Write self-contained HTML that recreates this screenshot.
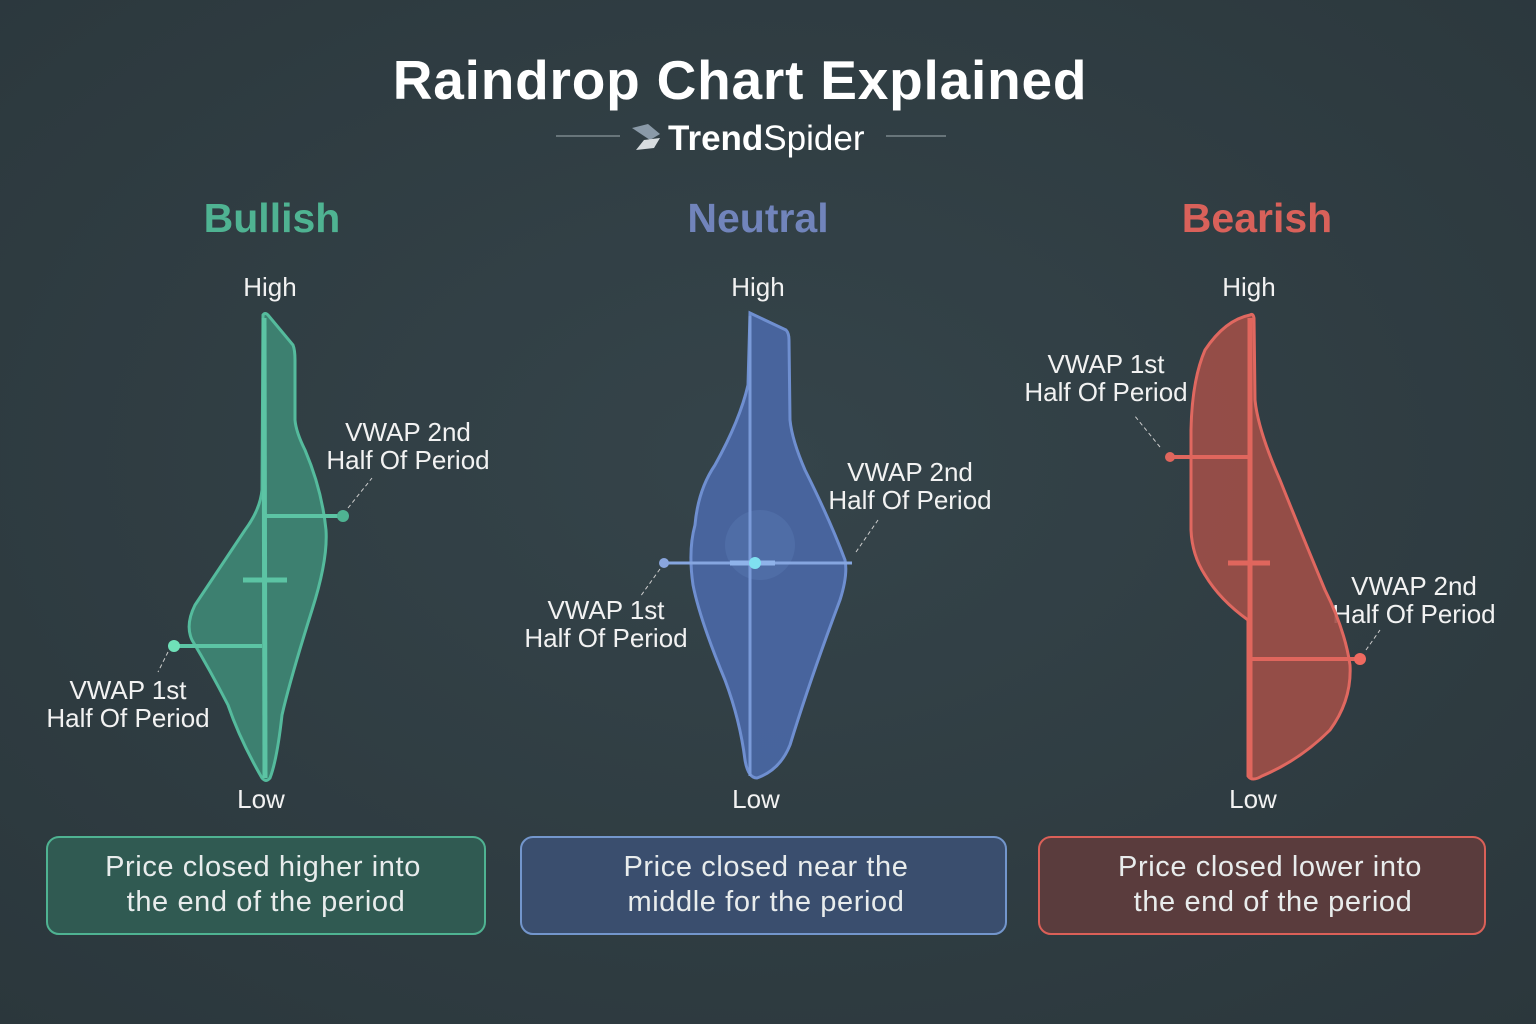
<!DOCTYPE html>
<html><head><meta charset="utf-8"><style>
html,body{margin:0;padding:0;background:#313e43;}
svg{display:block}
text{font-family:"Liberation Sans","DejaVu Sans",sans-serif;}
</style></head><body>
<svg width="1536" height="1024" viewBox="0 0 1536 1024" xmlns="http://www.w3.org/2000/svg">
<defs>
<radialGradient id="bg" cx="50%" cy="45%" r="75%"><stop offset="0" stop-color="#35444a"/><stop offset="1" stop-color="#2b373c"/></radialGradient>
</defs>
<rect width="1536" height="1024" fill="url(#bg)"/>
<text x="740" y="99" text-anchor="middle" font-size="55" font-weight="bold" fill="#ffffff" letter-spacing="0.8">Raindrop Chart Explained</text>
<line x1="556" y1="136" x2="620" y2="136" stroke="#7a878c" stroke-width="1.5"/>
<line x1="886" y1="136" x2="946" y2="136" stroke="#7a878c" stroke-width="1.5"/>
<path d="M632 128 L648 124 L660 134 L650 140 Z" fill="#8a9aa8"/>
<path d="M636 150 L644 140 L660 138 L654 148 Z" fill="#d8dde0"/>
<text x="668" y="150" font-size="35" fill="#ffffff"><tspan font-weight="bold">Trend</tspan>Spider</text>

<text x="272" y="232" text-anchor="middle" font-size="41" font-weight="bold" fill="#4fb392">Bullish</text>
<text x="758" y="232" text-anchor="middle" font-size="41" font-weight="bold" fill="#7184bb">Neutral</text>
<text x="1257" y="232" text-anchor="middle" font-size="41" font-weight="bold" fill="#d9615a">Bearish</text>

<g font-size="26" fill="#f2f2f2" text-anchor="middle">
<text x="270" y="296">High</text><text x="758" y="296">High</text><text x="1249" y="296">High</text>
<text x="261" y="808">Low</text><text x="756" y="808">Low</text><text x="1253" y="808">Low</text>
<text x="408" y="441">VWAP 2nd</text><text x="408" y="469">Half Of Period</text>
<text x="128" y="699">VWAP 1st</text><text x="128" y="727">Half Of Period</text>
<text x="606" y="619">VWAP 1st</text><text x="606" y="647">Half Of Period</text>
<text x="910" y="481">VWAP 2nd</text><text x="910" y="509">Half Of Period</text>
<text x="1106" y="373">VWAP 1st</text><text x="1106" y="401">Half Of Period</text>
<text x="1414" y="595">VWAP 2nd</text><text x="1414" y="623">Half Of Period</text>
</g>

<!-- Bullish -->
<path d="M263 315 Q265 312 268 315 L293 345 Q295 350 295 360 L295 420 Q296 432 305 450 Q322 490 326 530 Q328 560 312 610 Q290 680 282 715 Q277 760 270 778 Q266 783 262 778 Q240 740 228 705 Q210 670 192 640 Q185 625 195 605 L245 530 Q260 510 262 490 Z" fill="#3f8c78" fill-opacity="0.85" stroke="#55bb9d" stroke-width="3"/>
<line x1="264" y1="318" x2="265" y2="778" stroke="#5cc4a4" stroke-width="5"/>
<line x1="266" y1="516" x2="343" y2="516" stroke="#5cc4a4" stroke-width="4"/>
<circle cx="343" cy="516" r="6" fill="#4fb392"/>
<line x1="174" y1="646" x2="262" y2="646" stroke="#5cc4a4" stroke-width="4"/>
<circle cx="174" cy="646" r="6" fill="#6fe0b8"/>
<line x1="243" y1="580" x2="287" y2="580" stroke="#5cc4a4" stroke-width="5"/>
<line x1="348" y1="508" x2="372" y2="478" stroke="#cccccc" stroke-dasharray="4,3"/>
<line x1="168" y1="652" x2="158" y2="672" stroke="#cccccc" stroke-dasharray="4,3"/>

<!-- Neutral -->
<path d="M750 313 L786 330 Q789 333 789 340 L790 420 Q792 440 805 470 Q830 520 845 560 Q848 575 840 600 Q810 680 790 745 Q780 770 757 778 Q748 778 745 760 Q740 720 725 680 Q700 620 693 585 Q688 550 695 525 Q698 490 715 465 Q740 420 748 385 Z" fill="#4a68a6" fill-opacity="0.9" stroke="#6f8fd0" stroke-width="3"/>
<circle cx="760" cy="545" r="35" fill="#5a7ab5" opacity="0.4"/>
<line x1="750" y1="316" x2="750" y2="776" stroke="#7a9ad8" stroke-width="3"/>
<line x1="664" y1="563" x2="852" y2="563" stroke="#86a6e0" stroke-width="3"/>
<line x1="730" y1="563" x2="775" y2="563" stroke="#8fb3ea" stroke-width="5"/>
<circle cx="664" cy="563" r="5" fill="#8aa6de"/>
<circle cx="755" cy="563" r="6" fill="#7fe0f0"/>
<line x1="856" y1="552" x2="878" y2="520" stroke="#cccccc" stroke-dasharray="4,3"/>
<line x1="660" y1="569" x2="640" y2="597" stroke="#cccccc" stroke-dasharray="4,3"/>

<!-- Bearish -->
<path d="M1250 315 Q1253 313 1254 318 L1255 400 Q1258 430 1280 480 Q1300 530 1325 590 Q1345 630 1350 665 Q1352 700 1330 730 Q1300 760 1262 776 Q1252 782 1248 776 L1248 620 Q1220 600 1205 575 Q1192 555 1191 530 L1191 430 Q1192 380 1205 350 Q1225 320 1250 315 Z" fill="#a04f48" fill-opacity="0.9" stroke="#e06860" stroke-width="3"/>
<line x1="1250" y1="318" x2="1250" y2="778" stroke="#e0665d" stroke-width="5"/>
<line x1="1170" y1="457" x2="1248" y2="457" stroke="#e0665d" stroke-width="4"/>
<circle cx="1170" cy="457" r="5" fill="#e0665d"/>
<line x1="1228" y1="563" x2="1270" y2="563" stroke="#e0665d" stroke-width="5"/>
<line x1="1252" y1="659" x2="1360" y2="659" stroke="#e0665d" stroke-width="4"/>
<circle cx="1360" cy="659" r="6" fill="#ef6a60"/>
<line x1="1160" y1="447" x2="1134" y2="415" stroke="#cccccc" stroke-dasharray="4,3"/>
<line x1="1366" y1="650" x2="1380" y2="630" stroke="#cccccc" stroke-dasharray="4,3"/>

<!-- Boxes -->
<rect x="47" y="837" width="438" height="97" rx="12" fill="#305a52" stroke="#4fb392" stroke-width="2"/>
<rect x="521" y="837" width="485" height="97" rx="12" fill="#3a4e6e" stroke="#7396cc" stroke-width="2"/>
<rect x="1039" y="837" width="446" height="97" rx="12" fill="#5a3c3d" stroke="#db6058" stroke-width="2"/>
<g font-size="29" fill="#e8ecec" text-anchor="middle" letter-spacing="0.6">
<text x="263" y="876">Price closed higher into</text><text x="266" y="911">the end of the period</text>
<text x="766" y="876">Price closed near the</text><text x="766" y="911">middle for the period</text>
<text x="1270" y="876">Price closed lower into</text><text x="1273" y="911">the end of the period</text>
</g>
</svg>
</body></html>
